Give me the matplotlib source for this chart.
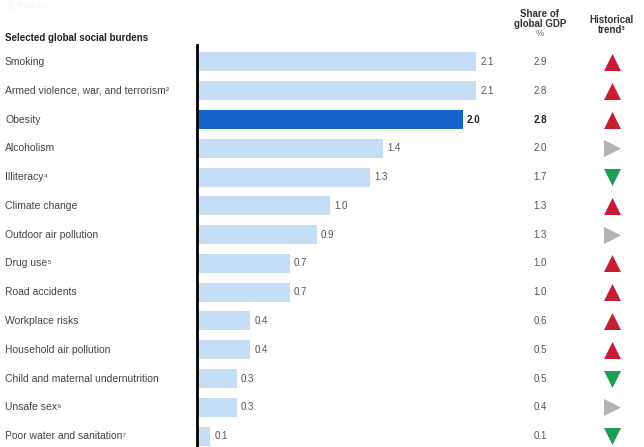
import matplotlib
matplotlib.use("Agg")
import matplotlib.pyplot as plt
import matplotlib.transforms as mtransforms
import numpy as np

plt.rcParams['font.family'] = ['Liberation Sans', 'DejaVu Sans']

# data
burdens = ["Smoking", "Armed violence, war, and terrorism²", "Obesity", "Alcoholism",
           "Illiteracy⁴", "Climate change", "Outdoor air pollution", "Drug use⁵",
           "Road accidents", "Workplace risks", "Household air pollution",
           "Child and maternal undernutrition", "Unsafe sex⁶", "Poor water and sanitation⁷"]
cost = [2.1, 2.1, 2.0, 1.4, 1.3, 1.0, 0.9, 0.7, 0.7, 0.4, 0.4, 0.3, 0.3, 0.1]
gdp_share = [2.9, 2.8, 2.8, 2.0, 1.7, 1.3, 1.3, 1.0, 1.0, 0.6, 0.5, 0.5, 0.4, 0.1]
trend = ["up", "up", "up", "flat", "down", "up", "flat", "up", "up", "up", "up",
         "down", "flat", "down"]
highlight = "Obesity"

light = "#c6ddf6"
dark = "#1565c8"
trend_style = {"up": ("^", "#c81e32"), "down": ("v", "#1d9e52"), "flat": (">", "#b3b3b3")}

W, H = 644, 447
fig = plt.figure(figsize=(W / 100, H / 100), dpi=100)
ax = fig.add_axes([197 / W, 0, 1 - 197 / W, 1 - 45 / H])

px_per_unit = 133.0
ax.set_xlim(0, (W - 197) / px_per_unit)
ax.set_ylim(13.38, -0.59)

y = np.arange(len(burdens))
colors = [dark if b == highlight else light for b in burdens]
ax.barh(y, cost, height=0.66, color=colors, linewidth=0)

for yi, b, v in zip(y, burdens, cost):
    bold = b == highlight
    ax.text(v + 0.03, yi, f"{v:.1f}", va="center", ha="left", fontsize=7,
            color="#222222" if bold else "#555555",
            fontweight="bold" if bold else "normal")

# left labels
lab_tr = mtransforms.blended_transform_factory(fig.transFigure, ax.transData)
for yi, b in zip(y, burdens):
    ax.text(5 / W, yi, b, transform=lab_tr, va="center", ha="left",
            fontsize=7.5, color="#444444", clip_on=False)

# GDP share column and trend arrows
gdp_x = (540 - 197) / px_per_unit
trend_x = (612 - 197) / px_per_unit
for yi, b, g in zip(y, burdens, gdp_share):
    bold = b == highlight
    ax.text(gdp_x, yi, f"{g:.1f}", va="center", ha="center", fontsize=7,
            color="#222222" if bold else "#555555",
            fontweight="bold" if bold else "normal")
for yi, t in zip(y, trend):
    m, c = trend_style[t]
    ax.scatter(trend_x, yi, marker=m, s=150, color=c, linewidths=0, clip_on=False)

for s in ["top", "right", "bottom"]:
    ax.spines[s].set_visible(False)
ax.spines["left"].set_linewidth(2)
ax.spines["left"].set_color("black")
ax.set_xticks([])
ax.set_yticks([])

# headers
fig.text(5 / W, 1 - 38 / H, "Selected global social burdens", fontsize=7,
         fontweight="bold", color="#222222", va="center", ha="left")
fig.text(8 / W, 1 - 6 / H, "$ trillion", fontsize=8, color="#f5f5f5",
         va="center", ha="left")
fig.text(540 / W, 1 - 19 / H, "Share of\nglobal GDP", fontsize=7, fontweight="bold",
         color="#333333", va="center", ha="center", linespacing=1.0)
fig.text(540 / W, 1 - 33 / H, "%", fontsize=6.5, color="#666666",
         va="center", ha="center")
fig.text(612 / W, 1 - 25 / H, "Historical\ntrend³", fontsize=7, fontweight="bold",
         color="#333333", va="center", ha="center", linespacing=1.0)

fig.savefig("out.png", dpi=100, facecolor="white")
